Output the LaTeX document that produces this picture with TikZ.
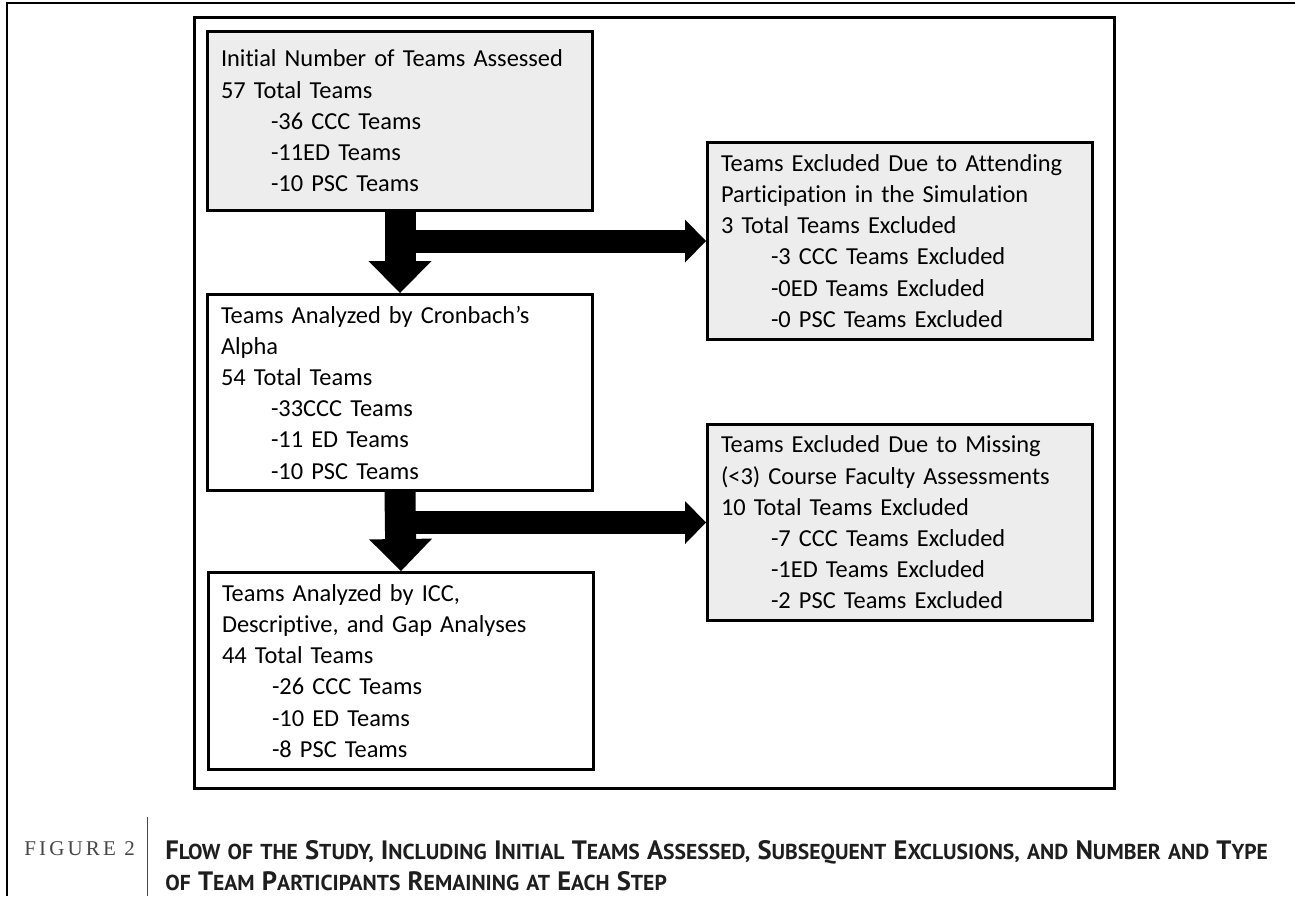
\documentclass[tikz,border=0pt]{standalone}
\usepackage{fontspec}
\setmainfont{Carlito}[Ligatures=NoCommon]
\newfontfamily\captfont{PT Sans}
\newfontfamily\figfont[LetterSpace=15.0]{Liberation Serif}
\usepackage{tikz}
\usetikzlibrary{arrows.meta}
\usetikzlibrary{positioning}
\definecolor{boxgray}{RGB}{237,237,237}
\definecolor{labelgray}{RGB}{70,70,70}
\definecolor{captblack}{RGB}{30,30,30}
\newcommand{\indl}{\hspace*{25pt}}
\newcommand{\capl}[1]{{\fontsize{13.3}{15.5}\selectfont #1}}

\begin{document}
\begin{tikzpicture}[x=0.5pt, y=-0.5pt,
    stepbox/.style={draw, line width=1.5pt, anchor=north west, minimum width=192.5pt,
                    text width=179pt, inner xsep=6.75pt, align=left,
                    font={\fontsize{12.2}{15.6}\selectfont}},
    grayfill/.style={fill=boxgray},
    downarrow/.style={line width=15.5pt, -{Triangle[width=31.5pt, length=16pt, line width=0pt]}},
    sidearrow/.style={line width=11.5pt, -{Triangle[width=21.5pt, length=10.5pt, line width=0pt]}}]
    \useasboundingbox (0,0) rectangle (1295,896);
    % page frame and figure frame
    \draw[line width=1pt] (7,896) -- (7,3) -- (1295,3);
    \draw[line width=1.5pt] (194,17) rectangle (1114,788);
    % left column
    \node[stepbox, grayfill, minimum height=89.5pt] (initial) at (206,30)
        {Initial Number of Teams Assessed\\
         57 Total Teams\\
         \indl-36 CCC Teams\\
         \indl-11ED Teams\\
         \indl-10 PSC Teams};
    \node[stepbox, minimum height=98pt] (cronbach) at (206,293)
        {Teams Analyzed by Cronbach’s\\
         Alpha\\
         54 Total Teams\\
         \indl-33CCC Teams\\
         \indl-11 ED Teams\\
         \indl-10 PSC Teams};
    \node[stepbox, minimum height=98.5pt] (icc) at (207,571)
        {Teams Analyzed by ICC,\\
         Descriptive, and Gap Analyses\\
         44 Total Teams\\
         \indl-26 CCC Teams\\
         \indl-10 ED Teams\\
         \indl-8 PSC Teams};
    % right column
    \node[stepbox, grayfill, minimum height=98.5pt] (attending) at (706,141)
        {Teams Excluded Due to Attending\\
         Participation in the Simulation\\
         3 Total Teams Excluded\\
         \indl-3 CCC Teams Excluded\\
         \indl-0ED Teams Excluded\\
         \indl-0 PSC Teams Excluded};
    \node[stepbox, grayfill, minimum height=98pt] (missing) at (706,423)
        {Teams Excluded Due to Missing\\
         (<3) Course Faculty Assessments\\
         10 Total Teams Excluded\\
         \indl-7 CCC Teams Excluded\\
         \indl-1ED Teams Excluded\\
         \indl-2 PSC Teams Excluded};
    % arrows
    \draw[downarrow] (initial.south) -- (cronbach.north);
    \draw[sidearrow] (initial.south |- attending.west) -- (attending.west);
    \draw[downarrow] (cronbach.south) -- (icc.north);
    \draw[sidearrow] (cronbach.south |- missing.west) -- (missing.west);
    % caption
    \node[anchor=west, inner sep=0pt, text=labelgray, font={\figfont\fontsize{10.5}{12}\selectfont}]
        (figlabel) at (24,849) {FIGURE 2};
    \draw[line width=0.5pt, labelgray] (147,817) -- (147,896);
    \node[anchor=north west, inner sep=0pt, text width=620pt, align=left, text=captblack,
          font={\captfont\bfseries\fontsize{10.8}{15.5}\selectfont}] (caption) at (165,840)
        {\capl{F}LOW OF THE \capl{S}TUDY, \capl{I}NCLUDING \capl{I}NITIAL \capl{T}EAMS
         \capl{A}SSESSED, \capl{S}UBSEQUENT \capl{E}XCLUSIONS, AND \capl{N}UMBER AND \capl{T}YPE\\
         OF \capl{T}EAM \capl{P}ARTICIPANTS \capl{R}EMAINING AT \capl{E}ACH \capl{S}TEP};
\end{tikzpicture}
\end{document}
